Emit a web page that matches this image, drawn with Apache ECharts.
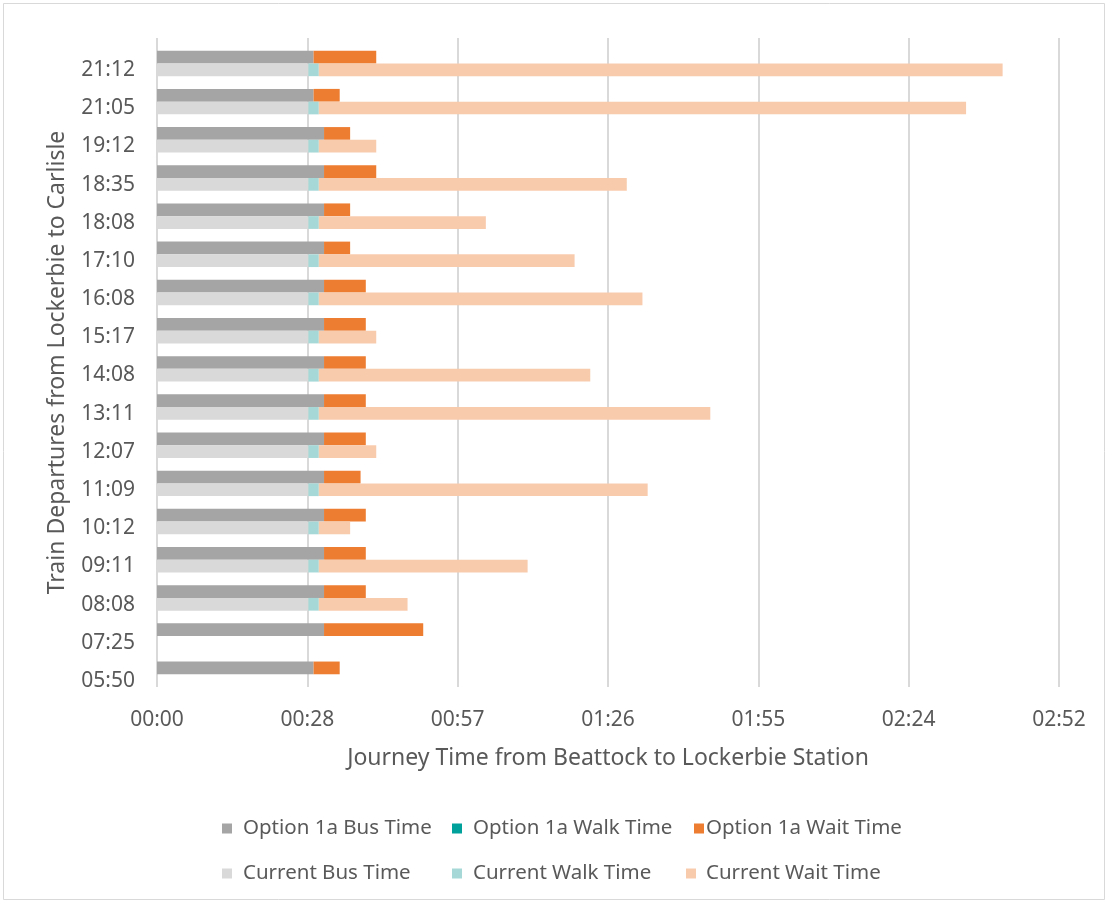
<!DOCTYPE html>
<html>
<head>
<meta charset="utf-8">
<script src="https://cdn.jsdelivr.net/npm/echarts@6/dist/echarts.min.js"></script>
<style>
  html, body { margin: 0; padding: 0; background: #ffffff; }
  #chart { width: 1109px; height: 907px; }
</style>
</head>
<body>
<div id="chart"></div>
<script>
// Train departures (bottom to top)
const departures = ['05:50', '07:25', '08:08', '09:11', '10:12', '11:09', '12:07', '13:11', '14:08',
  '15:17', '16:08', '17:10', '18:08', '18:35', '19:12', '21:05', '21:12'];

// Journey components in minutes
const optionBus  = [30, 32, 32, 32, 32, 32, 32, 32, 32, 32, 32, 32, 32, 32, 32, 30, 30];
const optionWalk = [0, 0, 0, 0, 0, 0, 0, 0, 0, 0, 0, 0, 0, 0, 0, 0, 0];
const optionWait = [5, 19, 8, 8, 8, 7, 8, 8, 8, 8, 8, 5, 5, 10, 5, 5, 12];

const currentBus  = [null, null, 29, 29, 29, 29, 29, 29, 29, 29, 29, 29, 29, 29, 29, 29, 29];
const currentWalk = [null, null, 2, 2, 2, 2, 2, 2, 2, 2, 2, 2, 2, 2, 2, 2, 2];
const currentWait = [null, null, 17, 40, 6, 63, 11, 75, 52, 11, 62, 49, 32, 59, 11, 124, 131];

// Time axis: steps of 0.02 day (28.8 minutes)
const tickStep = 28.8;
const axisMax = 172.8;

const FONT = 'Noto Sans';
const TXT = '#595959';

function hhmm(v) {
  const m = Math.floor(v + 1e-6);
  const h = Math.floor(m / 60);
  const mm = m % 60;
  return String(h).padStart(2, '0') + ':' + String(mm).padStart(2, '0');
}

const colors = {
  optBus: '#A5A5A5', optWalk: '#00A19B', optWait: '#ED7D31',
  curBus: '#D9D9D9', curWalk: '#A5D8D6', curWait: '#F8CBAD'
};

function bar(name, stack, data, color) {
  return {
    name: name, type: 'bar', stack: stack, data: data,
    barGap: '0%', barCategoryGap: '0%',
    itemStyle: { color: color },
    emphasis: { disabled: true },
    animation: false
  };
}

// Legend laid out as a 3 x 2 table
const legendCells = [
  { name: 'Option 1a Bus Time',  left: 217, top: 813, pad: 6 },
  { name: 'Option 1a Walk Time', left: 447, top: 813, pad: 6 },
  { name: 'Option 1a Wait Time', left: 689, top: 813, pad: -3 },
  { name: 'Current Bus Time',    left: 217, top: 858, pad: 6 },
  { name: 'Current Walk Time',   left: 447, top: 858, pad: 6 },
  { name: 'Current Wait Time',   left: 681, top: 858, pad: 5 }
];

const legends = legendCells.map(c => ({
  left: c.left,
  top: c.top,
  data: [c.name],
  itemWidth: 10,
  itemHeight: 10,
  icon: 'rect',
  selectedMode: false,
  formatter: n => '{t|' + n + '}',
  textStyle: {
    fontFamily: FONT, fontSize: 20.5, color: TXT,
    rich: { t: { fontFamily: FONT, fontSize: 20.5, color: TXT, padding: [0, 0, 0, c.pad] } }
  }
}));

const chart = echarts.init(document.getElementById('chart'), null, { renderer: 'canvas' });

chart.setOption({
  backgroundColor: '#ffffff',
  animation: false,
  grid: { left: 157, right: 50, top: 38, bottom: 220, containLabel: false },
  legend: legends,
  xAxis: {
    type: 'value',
    min: 0,
    max: axisMax,
    interval: tickStep,
    name: 'Journey Time from Beattock to Lockerbie Station',
    nameLocation: 'middle',
    nameGap: 60,
    nameTextStyle: { fontFamily: FONT, fontSize: 23, color: TXT },
    axisLine: { show: false },
    axisTick: { show: false },
    axisLabel: { formatter: hhmm, fontFamily: FONT, fontSize: 21, color: TXT, margin: 23 },
    splitLine: { show: true, lineStyle: { color: '#D9D9D9', width: 2 } }
  },
  yAxis: {
    type: 'category',
    data: departures,
    name: 'Train Departures from Lockerbie to Carlisle',
    nameLocation: 'middle',
    nameGap: 88,
    nameRotate: 90,
    nameTextStyle: { fontFamily: FONT, fontSize: 23, color: TXT },
    axisLine: { show: false },
    axisTick: { show: false },
    axisLabel: {
      fontFamily: FONT, fontSize: 21, color: TXT, margin: 22,
      verticalAlign: 'top', lineHeight: 26
    },
    splitLine: { show: false }
  },
  series: [
    // empty top slot in each row
    { name: 'spacer', type: 'bar', stack: 'spacer', data: [], barGap: '0%', barCategoryGap: '0%', silent: true },
    bar('Option 1a Bus Time', 'option', optionBus, colors.optBus),
    bar('Option 1a Walk Time', 'option', optionWalk, colors.optWalk),
    bar('Option 1a Wait Time', 'option', optionWait, colors.optWait),
    bar('Current Bus Time', 'current', currentBus, colors.curBus),
    bar('Current Walk Time', 'current', currentWalk, colors.curWalk),
    bar('Current Wait Time', 'current', currentWait, colors.curWait)
  ],
  graphic: [{
    type: 'rect',
    shape: { x: 3.5, y: 3.5, width: 1101, height: 896 },
    style: { fill: null, stroke: '#D9D9D9', lineWidth: 1 },
    silent: true
  }]
});
</script>
</body>
</html>
